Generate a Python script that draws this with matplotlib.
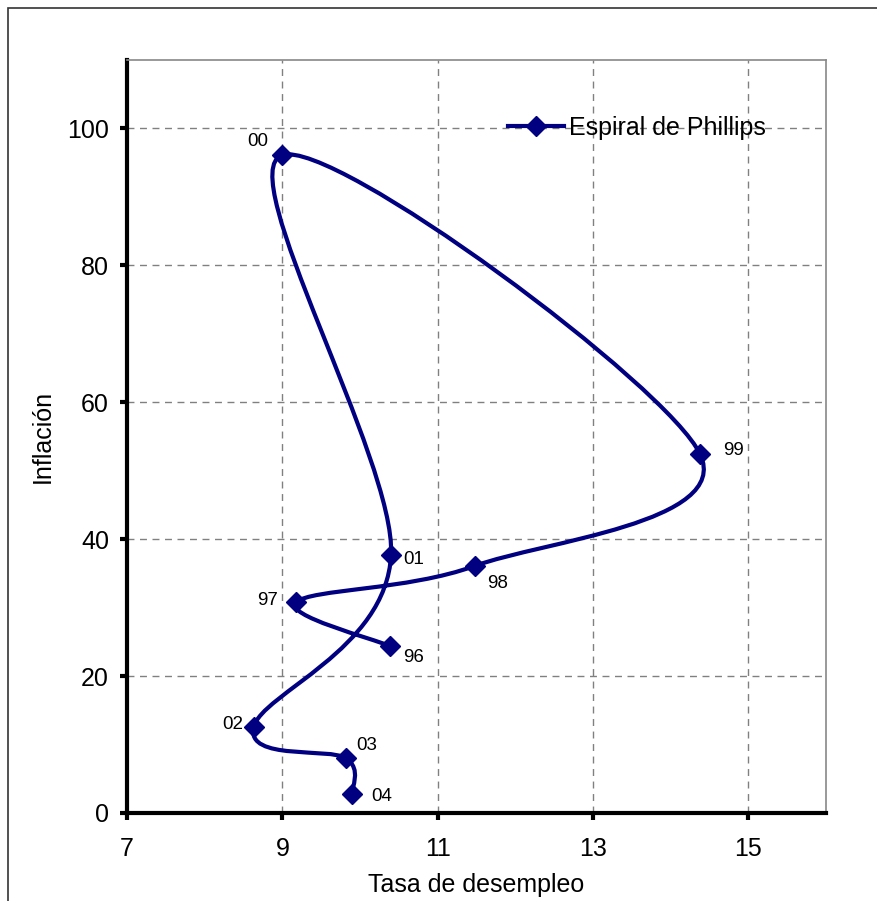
import matplotlib.pyplot as plt
import numpy as np
from matplotlib.path import Path
from matplotlib.patches import PathPatch, Rectangle
from matplotlib.lines import Line2D

plt.rcParams['font.family'] = ['Liberation Sans', 'DejaVu Sans']

# Unemployment rate vs. inflation by year
years = ['96', '97', '98', '99', '00', '01', '02', '03', '04']
desempleo = [10.38, 9.18, 11.48, 14.38, 9.0, 10.4, 8.63, 9.82, 9.9]
inflacion = [24.4, 30.8, 36.1, 52.4, 96.1, 37.7, 12.5, 8.0, 2.8]

# label offsets in points (placement only)
label_offsets = [(17, -8), (-21, 1), (16, -13), (24, 3), (-18, 10),
                 (16, -3), (-15, 2), (15, 9), (21, -2)]

navy = '#000080'

fig = plt.figure(figsize=(8.78, 9.01), dpi=100)
ax = fig.add_axes([127 / 878, 1 - 813 / 901, (826 - 127) / 878, (813 - 60) / 901])

# smoothed line through the points (Catmull-Rom style Bezier, like Excel)
pts = np.column_stack([desempleo, inflacion])
n = len(pts)
verts = [tuple(pts[0])]
codes = [Path.MOVETO]
for i in range(n - 1):
    p0 = pts[i - 1] if i > 0 else pts[i]
    p1 = pts[i]
    p2 = pts[i + 1]
    p3 = pts[i + 2] if i + 2 < n else pts[i + 1]
    c1 = p1 + (p2 - p0) / 6
    c2 = p2 - (p3 - p1) / 6
    verts += [tuple(c1), tuple(c2), tuple(p2)]
    codes += [Path.CURVE4] * 3
ax.add_patch(PathPatch(Path(verts, codes), facecolor='none', edgecolor=navy,
                       lw=3, zorder=3, capstyle='round', joinstyle='round'))
ax.plot(desempleo, inflacion, linestyle='none', marker='D', color=navy,
        markersize=10.5, zorder=4)

for x, y, lab, off in zip(desempleo, inflacion, years, label_offsets):
    ax.annotate(lab, (x, y), xytext=off, textcoords='offset points',
                ha='center', va='center', fontsize=13.5, color='black')

ax.set_xlim(7, 16)
ax.set_ylim(0, 110)
ax.set_xticks([7, 9, 11, 13, 15])
ax.set_yticks([0, 20, 40, 60, 80, 100])
ax.grid(True, color='#808080', linestyle=(0, (5, 4)), linewidth=1)
ax.set_axisbelow(True)

for s in ['top', 'right']:
    ax.spines[s].set_color('#888888')
    ax.spines[s].set_linewidth(1.2)
for s in ['left', 'bottom']:
    ax.spines[s].set_color('black')
    ax.spines[s].set_linewidth(3)
ax.tick_params(axis='both', direction='out', length=5, width=3, labelsize=18,
               top=False, right=False)
ax.tick_params(axis='x', pad=12)
ax.tick_params(axis='y', pad=8)

ax.set_xlabel('Tasa de desempleo', fontsize=18, labelpad=9)
ax.set_ylabel('Inflación', fontsize=18, labelpad=9)

handle = Line2D([], [], color=navy, lw=3, marker='D', markersize=10.5)
ax.legend([handle], ['Espiral de Phillips'], loc='center left', frameon=False,
          fontsize=18, bbox_to_anchor=((508 - 127) / 699, (813 - 128) / 753),
          borderpad=0, borderaxespad=0, handlelength=2.25, handletextpad=0.2)

# outer chart border
fig.add_artist(Rectangle((8 / 878, -0.5), 2, 0.5 + 1 - 8 / 901,
                         transform=fig.transFigure, fill=False,
                         edgecolor='#333333', lw=1.2))

fig.savefig('out.png', dpi=100)
